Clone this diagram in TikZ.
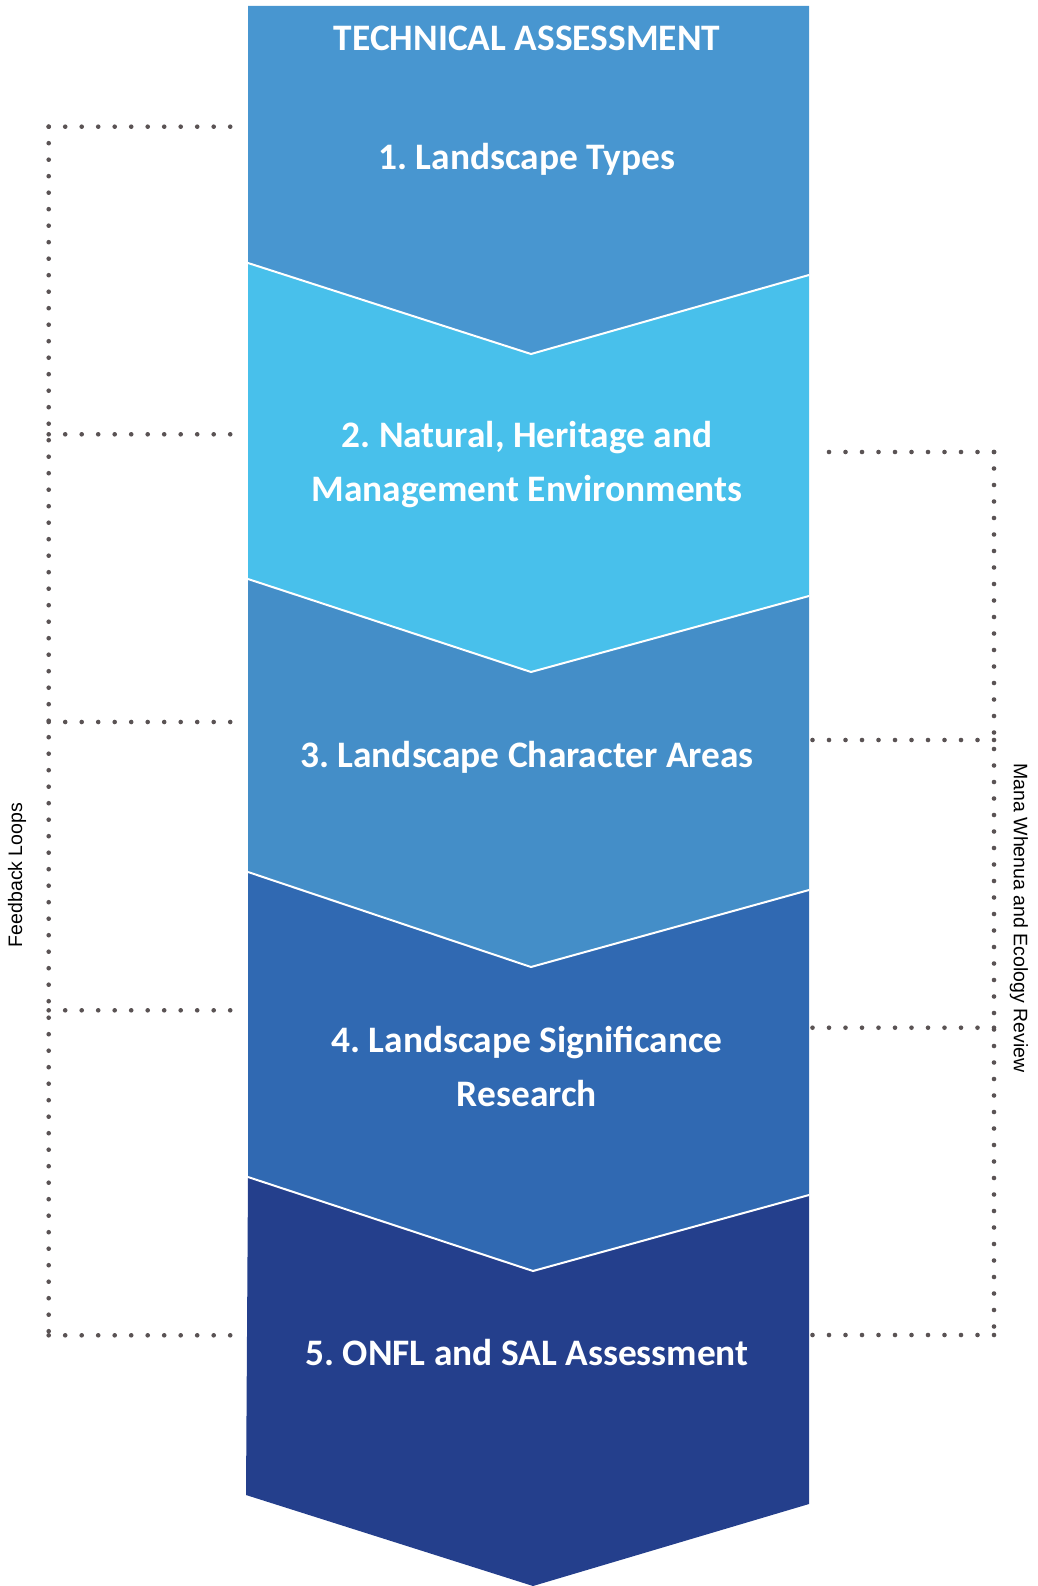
\documentclass[tikz,border=0pt]{standalone}
\usepackage{fontspec}
\setmainfont{Carlito}
\newfontfamily\sidefont{Liberation Sans}
\definecolor{stepone}{HTML}{4896D0}
\definecolor{steptwo}{HTML}{48C0EB}
\definecolor{stepthree}{HTML}{448EC8}
\definecolor{stepfour}{HTML}{3069B2}
\definecolor{stepfive}{HTML}{243F8C}
\definecolor{dotgray}{HTML}{5A5354}
\frenchspacing
\begin{document}
\begin{tikzpicture}[x=1pt,y=-1pt,
  dotline/.style={draw=dotgray, line width=4.6pt, line cap=round, dash pattern=on 0pt off 16.5pt},
  sepline/.style={draw=white, line width=2pt},
  steplabel/.style={text=white, font=\fontsize{37.4}{54}\selectfont\bfseries, align=center, inner sep=0pt},
  sidelabel/.style={font=\sidefont\fontsize{19.5}{22}\selectfont, text=black, inner sep=0pt}]
\useasboundingbox (0,0) rectangle (1037,1586);

% chevron boundaries: left corner, centre point, right corner
\coordinate (b0l) at (248,6);    \coordinate (b0p) at (531,6);    \coordinate (b0r) at (809,6);
\coordinate (b1l) at (248,263);  \coordinate (b1p) at (531,354);  \coordinate (b1r) at (809,275);
\coordinate (b2l) at (248,579);  \coordinate (b2p) at (531,672);  \coordinate (b2r) at (809,596);
\coordinate (b3l) at (248,872);  \coordinate (b3p) at (531,967);  \coordinate (b3r) at (809,890);
\coordinate (b4l) at (248,1177); \coordinate (b4p) at (533,1271); \coordinate (b4r) at (809,1195);
\coordinate (b5l) at (246,1495); \coordinate (b5p) at (533,1586); \coordinate (b5r) at (809,1504);

% the five stacked chevrons
\fill[stepone]   (b0l) -- (b0p) -- (b0r) -- (b1r) -- (b1p) -- (b1l) -- cycle;
\fill[steptwo]   (b1l) -- (b1p) -- (b1r) -- (b2r) -- (b2p) -- (b2l) -- cycle;
\fill[stepthree] (b2l) -- (b2p) -- (b2r) -- (b3r) -- (b3p) -- (b3l) -- cycle;
\fill[stepfour]  (b3l) -- (b3p) -- (b3r) -- (b4r) -- (b4p) -- (b4l) -- cycle;
\fill[stepfive]  (b4l) -- (b4p) -- (b4r) -- (b5r) -- (b5p) -- (b5l) -- cycle;

% white separators
\draw[sepline] (b1l) -- (b1p) -- (b1r);
\draw[sepline] (b2l) -- (b2p) -- (b2r);
\draw[sepline] (b3l) -- (b3p) -- (b3r);
\draw[sepline] (b4l) -- (b4p) -- (b4r);

% labels
\node[steplabel] (head) at (527,38) {TECHNICAL ASSESSMENT};
\node[steplabel] (s1) at (527,159) {1. Landscape Types};
\node[steplabel] (s2) at (527,465) {2. Natural, Heritage and\\Management Environments};
\node[steplabel] (s3) at (527,757) {3. Landscape Character Areas};
\node[steplabel] (s4) at (527,1066) {4. Landscape Significance\\Research};
\node[steplabel] (s5) at (527,1352) {5. ONFL and SAL Assessment};

% feedback loops (left)
\coordinate (fa) at (48.7,126.7);  \coordinate (fa2) at (230.7,126.7);
\coordinate (fb) at (48.7,434.3);  \coordinate (fb2) at (230.7,434.3);
\coordinate (fc) at (48.7,722);    \coordinate (fc2) at (230.7,722);
\coordinate (fd) at (48.7,1010.3); \coordinate (fd2) at (230.7,1010.3);
\coordinate (fe) at (48.7,1335.3); \coordinate (fe2) at (230.7,1335.3);
\draw[dotline] (fa) -- (fe);
\foreach \p in {a,b,c,d,e} \draw[dotline] (f\p) -- (f\p2);

% review loop (right)
\coordinate (ra) at (994,452);   \coordinate (ra2) at (823,452);
\coordinate (rb) at (994,740);   \coordinate (rb2) at (812,740);
\coordinate (rc) at (994,1027.7);\coordinate (rc2) at (812,1027.7);
\coordinate (rd) at (994,1335);  \coordinate (rd2) at (812,1335);
\draw[dotline] (ra) -- (rd);
\foreach \p in {a,b,c,d} \draw[dotline] (r\p) -- (r\p2);

% side captions
\node[sidelabel, rotate=90] (fbk) at (17,875) {Feedback Loops};
\node[sidelabel, rotate=-90] (rev) at (1019,918) {Mana Whenua and Ecology Review};
\end{tikzpicture}
\end{document}
